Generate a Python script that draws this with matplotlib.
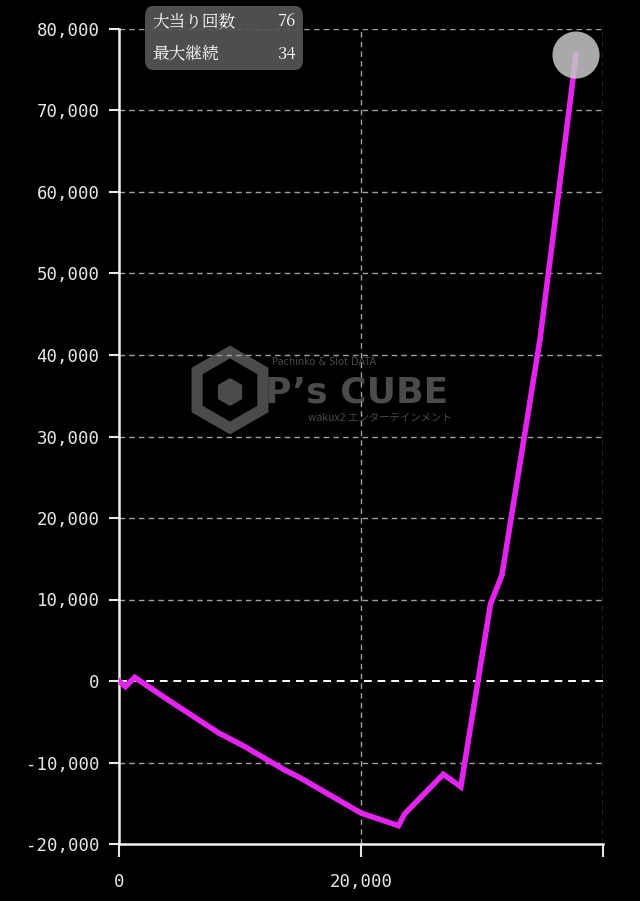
import matplotlib.pyplot as plt
from matplotlib.patches import FancyBboxPatch, Polygon
from matplotlib.ticker import FuncFormatter
import numpy as np

# data (spins vs. balance)
spins = [0, 530, 1300, 4070, 8270, 10300, 13670, 15000, 20000, 23100, 23600,
         26800, 28250, 30700, 31650, 34800, 37770]
balance = [0, -700, 450, -2330, -6400, -7970, -10900, -11900, -16200, -17750,
           -16300, -11450, -12970, 9450, 13000, 42000, 76800]
stat_labels = ["大当り回数", "最大継続"]
stat_values = ["76", "34"]

LINE = "#e424ee"
TICK = "#e6e6e6"
W, H = 640, 901

plt.rcParams["font.family"] = ["DejaVu Sans Mono"]

fig = plt.figure(figsize=(6.4, 9.01), dpi=100, facecolor="black")
ax = fig.add_axes([119 / W, 57 / H, 484 / W, 815 / H])
ax.patch.set_visible(False)
ax.set_xlim(0, 40000)
ax.set_ylim(-20000, 80000)
ax.set_xticks([0, 20000, 40000])
ax.set_yticks(range(-20000, 80001, 10000))

ax.xaxis.set_major_formatter(FuncFormatter(lambda v, p: "" if v >= 40000 else f"{int(v):,}"))
ax.yaxis.set_major_formatter(FuncFormatter(lambda v, p: f"{int(v):,}"))
ax.tick_params(colors=TICK, labelsize=12.5, width=1.5)
ax.tick_params(axis="x", length=9, pad=12)
ax.tick_params(axis="y", length=7, pad=7)

for s in ["top", "right"]:
    ax.spines[s].set_visible(False)
for s in ["left", "bottom"]:
    ax.spines[s].set_color("#f0f0f0")
    ax.spines[s].set_linewidth(1.8)

# grid
for y in range(-10000, 80001, 10000):
    c = "#ffffff" if y == 0 else "#a0a0a0"
    lw = 1.4 if y == 0 else 1.0
    ax.axhline(y, color=c, lw=lw, ls=(0, (4, 3)), zorder=1)
for x in [20000, 40000]:
    ax.axvline(x, color="#a0a0a0", lw=1.0, ls=(0, (4, 3)), zorder=1)

# watermark (drawn in pixel space, y measured from top), behind the axes
wm = "#4b4b4b"
def px(x, y):
    return (x / W, 1 - y / H)

ang = np.radians(90 + 60 * np.arange(6))
hexagon = [px(230 + 38 * np.cos(a), 390 - 38 * np.sin(a)) for a in ang]
fig.patches.append(Polygon(hexagon, closed=True, transform=fig.transFigure,
                           facecolor="none", edgecolor=wm, lw=8, zorder=-1))
inner = [px(230 + 14 * np.cos(a), 392 - 14 * np.sin(a)) for a in ang]
fig.patches.append(Polygon(inner, closed=True, transform=fig.transFigure,
                           facecolor=wm, edgecolor="none", zorder=-1))
fig.text(*px(357, 393), "P’s CUBE", color=wm, fontsize=26, fontweight="bold",
         family=["DejaVu Sans"], ha="center", va="center", zorder=-1)
fig.text(*px(324, 362), "Pachinko & Slot DATA", color=wm, fontsize=7,
         family=["DejaVu Sans"], ha="center", va="center", zorder=-1)
fig.text(*px(380, 418), "wakux2 エンターテインメント", color=wm, fontsize=7.5,
         family=["Noto Sans CJK JP", "DejaVu Sans"], ha="center", va="center", zorder=-1)

# line
ax.plot(spins, balance, color=LINE, lw=4, solid_joinstyle="miter", zorder=3)
ax.scatter([spins[-1]], [balance[-1]], s=1150, color="#c8c8c8", alpha=0.85,
           edgecolors="none", zorder=4)

# stats box
box = FancyBboxPatch((145 / W, 1 - 70 / H), 158 / W, 64 / H,
                     boxstyle="round,pad=0,rounding_size=0.012",
                     transform=fig.transFigure, facecolor="#555553",
                     edgecolor="none", alpha=0.92, zorder=5)
fig.patches.append(box)
for i, (lab, val) in enumerate(zip(stat_labels, stat_values)):
    yy = 1 - (21 + i * 33) / H
    fig.text(152 / W, yy, lab, color="white", fontsize=12,
             family=["Noto Serif CJK JP", "Noto Sans CJK JP"], va="center", zorder=6)
    fig.text(296 / W, yy, val, color="white", fontsize=12,
             family=["Noto Serif CJK JP", "Noto Sans CJK JP", "DejaVu Serif"],
             ha="right", va="center", zorder=6)

fig.savefig("out.png", dpi=100, facecolor="black")
